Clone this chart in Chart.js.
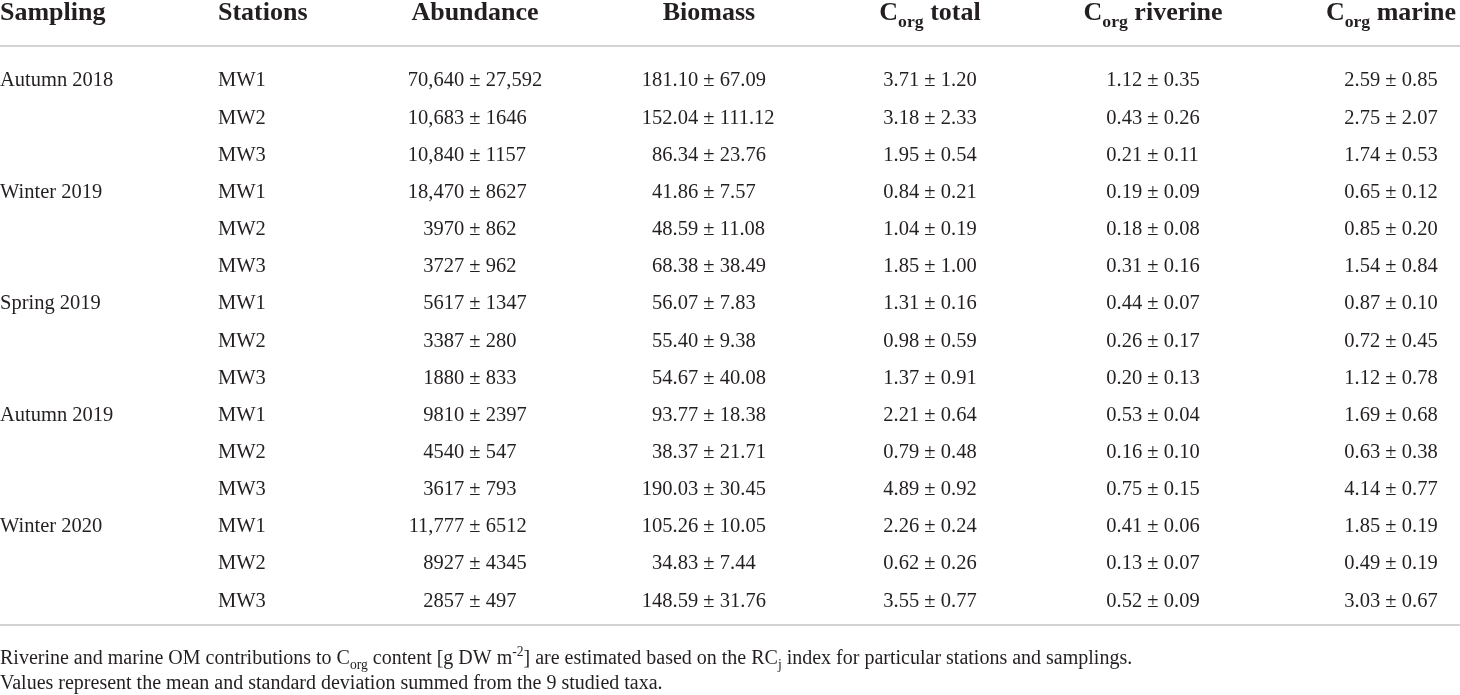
<!DOCTYPE html>
<html>
<head>
<meta charset="utf-8">
<title>Abundance, biomass and Corg</title>
<script src="https://cdn.jsdelivr.net/npm/chart.js@4/dist/chart.umd.min.js"></script>
<style>
    body { margin: 0; background: #fff; }
    #wrap { width: 1460px; height: 695px; }
</style>
</head>
<body>
<div id="wrap"><canvas id="tableChart"></canvas></div>
<script>
// ---- data ----
const samplings = ['Autumn 2018', 'Winter 2019', 'Spring 2019', 'Autumn 2019', 'Winter 2020'];
const stations = ['MW1', 'MW2', 'MW3'];

const abundanceMean = [70640, 10683, 10840, 18470, 3970, 3727, 5617, 3387, 1880, 9810, 4540, 3617, 11777, 8927, 2857];
const abundanceSd = [27592, 1646, 1157, 8627, 862, 962, 1347, 280, 833, 2397, 547, 793, 6512, 4345, 497];

const biomassMean = [181.10, 152.04, 86.34, 41.86, 48.59, 68.38, 56.07, 55.40, 54.67, 93.77, 38.37, 190.03, 105.26, 34.83, 148.59];
const biomassSd = [67.09, 111.12, 23.76, 7.57, 11.08, 38.49, 7.83, 9.38, 40.08, 18.38, 21.71, 30.45, 10.05, 7.44, 31.76];

const corgTotalMean = [3.71, 3.18, 1.95, 0.84, 1.04, 1.85, 1.31, 0.98, 1.37, 2.21, 0.79, 4.89, 2.26, 0.62, 3.55];
const corgTotalSd = [1.20, 2.33, 0.54, 0.21, 0.19, 1.00, 0.16, 0.59, 0.91, 0.64, 0.48, 0.92, 0.24, 0.26, 0.77];

const corgRiverineMean = [1.12, 0.43, 0.21, 0.19, 0.18, 0.31, 0.44, 0.26, 0.20, 0.53, 0.16, 0.75, 0.41, 0.13, 0.52];
const corgRiverineSd = [0.35, 0.26, 0.11, 0.09, 0.08, 0.16, 0.07, 0.17, 0.13, 0.04, 0.10, 0.15, 0.06, 0.07, 0.09];

const corgMarineMean = [2.59, 2.75, 1.74, 0.65, 0.85, 1.54, 0.87, 0.72, 1.12, 1.69, 0.63, 4.14, 1.85, 0.49, 3.03];
const corgMarineSd = [0.85, 2.07, 0.53, 0.12, 0.20, 0.84, 0.10, 0.45, 0.78, 0.68, 0.38, 0.77, 0.19, 0.19, 0.67];

const headers = [
    [{ t: 'Sampling' }],
    [{ t: 'Stations' }],
    [{ t: 'Abundance' }],
    [{ t: 'Biomass' }],
    [{ t: 'C' }, { t: 'org', sub: true }, { t: ' total' }],
    [{ t: 'C' }, { t: 'org', sub: true }, { t: ' riverine' }],
    [{ t: 'C' }, { t: 'org', sub: true }, { t: ' marine' }]
];

const notes = [
    [{ t: 'Riverine and marine OM contributions to C' }, { t: 'org', sub: true },
     { t: ' content [g DW m' }, { t: '-2', sup: true },
     { t: '] are estimated based on the RC' }, { t: 'j', sub: true },
     { t: ' index for particular stations and samplings.' }],
    [{ t: 'Values represent the mean and standard deviation summed from the 9 studied taxa.' }]
];

// ---- layout / style ----
const serif = '"Liberation Serif", "DejaVu Serif", serif';
const textColor = '#231f20';
const ruleColor = '#c4c4c4';
const colAnchor = [0, 218, 475, 709, 930, 1153, 1391];
const headerAlign = ['left', 'left', 'center', 'center', 'center', 'center', 'center'];

// one row per sampling x station
const rowKeys = [];
const samplingCells = [];
const stationCells = [];
samplings.forEach(s => {
    stations.forEach((st, j) => {
        rowKeys.push(s + ' ' + st);
        samplingCells.push({ text: j === 0 ? s : '' });
        stationCells.push({ text: st });
    });
});

const fmtCount = n => n >= 10000 ? n.toLocaleString('en-US') : String(n);
const fmtDec = n => n.toFixed(2);
const pmCells = (means, sds, fmt) => means.map((m, i) => ({ mean: fmt(m), sd: fmt(sds[i]) }));

const columnCells = [
    samplingCells,
    stationCells,
    pmCells(abundanceMean, abundanceSd, fmtCount),
    pmCells(biomassMean, biomassSd, fmtDec),
    pmCells(corgTotalMean, corgTotalSd, fmtDec),
    pmCells(corgRiverineMean, corgRiverineSd, fmtDec),
    pmCells(corgMarineMean, corgMarineSd, fmtDec)
];

const datasets = columnCells.map((cells, c) => ({
    label: 'col' + c,
    cells: cells,
    data: cells.map((_, i) => ({ x: colAnchor[c], y: i })),
    pointRadius: 0,
    showLine: false
}));

// draws a run of text pieces with sub/superscripts; returns width
function richWidth(ctx, parts, size, weight) {
    let w = 0;
    parts.forEach(p => {
        const s = (p.sub || p.sup) ? size * 0.68 : size;
        ctx.font = `${weight} ${s}px ${serif}`;
        w += ctx.measureText(p.t).width;
    });
    return w;
}

function drawRich(ctx, parts, x, y, size, weight, align) {
    let cx = align === 'center' ? x - richWidth(ctx, parts, size, weight) / 2 : x;
    ctx.textAlign = 'left';
    parts.forEach(p => {
        const s = (p.sub || p.sup) ? size * 0.68 : size;
        ctx.font = `${weight} ${s}px ${serif}`;
        const dy = p.sub ? size * 0.26 : (p.sup ? -size * 0.4 : 0);
        ctx.fillText(p.t, cx, y + dy);
        cx += ctx.measureText(p.t).width;
    });
}

const tablePlugin = {
    id: 'tableText',
    afterDatasetsDraw(chart) {
        const ctx = chart.ctx;
        const area = chart.chartArea;
        const xs = chart.scales.x;
        ctx.save();
        ctx.fillStyle = textColor;
        ctx.textBaseline = 'alphabetic';

        // header row
        headers.forEach((h, c) => {
            drawRich(ctx, h, xs.getPixelForValue(colAnchor[c]), area.top - 41.5, 26, 'bold', headerAlign[c]);
        });

        // rules
        ctx.strokeStyle = ruleColor;
        ctx.lineWidth = 1.5;
        [area.top - 15.5, area.bottom + 6.5].forEach(y => {
            ctx.beginPath();
            ctx.moveTo(area.left, y);
            ctx.lineTo(area.right, y);
            ctx.stroke();
        });

        // body cells
        const size = 20.5;
        ctx.font = `${size}px ${serif}`;
        const pmW = ctx.measureText('±').width;
        const spW = ctx.measureText(' ').width;
        chart.data.datasets.forEach((ds, c) => {
            const meta = chart.getDatasetMeta(c);
            meta.data.forEach((pt, i) => {
                const cell = ds.cells[i];
                const y = pt.y + 6.5;
                if (cell.text !== undefined) {
                    ctx.textAlign = 'left';
                    ctx.fillText(cell.text, pt.x, y);
                } else {
                    ctx.textAlign = 'right';
                    ctx.fillText(cell.mean, pt.x - pmW / 2 - spW, y);
                    ctx.textAlign = 'center';
                    ctx.fillText('±', pt.x, y);
                    ctx.textAlign = 'left';
                    ctx.fillText(cell.sd, pt.x + pmW / 2 + spW, y);
                }
            });
        });

        // footnotes
        notes.forEach((n, k) => {
            drawRich(ctx, n, area.left, area.bottom + 45.5 + k * 25, 20, 'normal', 'left');
        });
        ctx.restore();
    }
};

new Chart(document.getElementById('tableChart'), {
    type: 'scatter',
    data: { datasets: datasets },
    options: {
        responsive: true,
        maintainAspectRatio: false,
        animation: false,
        events: [],
        layout: { padding: { top: 61.4, bottom: 76.4, left: 0, right: 0 } },
        plugins: { legend: { display: false }, tooltip: { enabled: false } },
        scales: {
            x: { type: 'linear', min: 0, max: 1460, display: false },
            y: { type: 'category', labels: rowKeys, offset: true, display: false }
        }
    },
    plugins: [tablePlugin]
});
</script>
</body>
</html>
